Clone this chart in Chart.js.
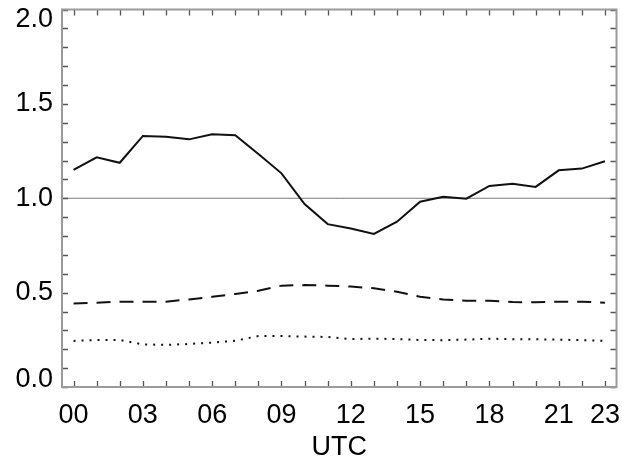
<!DOCTYPE html>
<html>
<head>
<meta charset="utf-8">
<script src="https://cdn.jsdelivr.net/npm/chart.js@4"></script>
<style>
  html, body { margin: 0; padding: 0; background: #fff; }
  #wrap { width: 622px; height: 459px; }
</style>
</head>
<body>
<div id="wrap"><canvas id="grafico" width="622" height="459"></canvas></div>
<script>
// dados
const hours = [0, 1, 2, 3, 4, 5, 6, 7, 8, 9, 10, 11, 12, 13, 14, 15, 16, 17, 18, 19, 20, 21, 22, 23];
const solidVals = [1.150, 1.217, 1.188, 1.330, 1.326, 1.312, 1.339, 1.334, 1.234, 1.132, 0.969, 0.863,
                   0.840, 0.811, 0.876, 0.982, 1.008, 0.998, 1.065, 1.077, 1.060, 1.148, 1.157, 1.196];
const dashedVals = [0.443, 0.447, 0.452, 0.452, 0.452, 0.464, 0.478, 0.493, 0.510, 0.537, 0.540, 0.537,
                    0.532, 0.523, 0.505, 0.478, 0.464, 0.457, 0.457, 0.450, 0.449, 0.452, 0.452, 0.447];
const dottedVals = [0.244, 0.249, 0.249, 0.226, 0.223, 0.228, 0.235, 0.245, 0.270, 0.270, 0.267, 0.265,
                    0.254, 0.256, 0.254, 0.249, 0.248, 0.251, 0.256, 0.253, 0.253, 0.251, 0.248, 0.244];
const xTickLabels = [0, 3, 6, 9, 12, 15, 18, 21, 23];
const yTickLabels = [0.0, 0.5, 1.0, 1.5, 2.0];
const refValue = 1.0;

const FONT = '"Liberation Sans", Arial, Helvetica, sans-serif';

function serie(vals) {
  return hours.map((h, i) => ({ x: h, y: vals[i] }));
}

// moldura, ticks para dentro, linha de referencia e rotulos do eixo y
const molduraPlugin = {
  id: 'moldura',
  beforeDatasetsDraw(chart) {
    const { ctx, chartArea: a, scales: { y } } = chart;
    const py = y.getPixelForValue(refValue);
    ctx.save();
    ctx.strokeStyle = '#7a7a7a';
    ctx.lineWidth = 1;
    ctx.beginPath();
    ctx.moveTo(a.left, py);
    ctx.lineTo(a.right, py);
    ctx.stroke();
    ctx.restore();
  },
  afterDraw(chart) {
    const { ctx, chartArea: a, scales: { x, y } } = chart;
    const tl = 6;
    ctx.save();
    ctx.strokeStyle = '#555';
    ctx.lineWidth = 1.3;
    ctx.beginPath();
    x.ticks.forEach(t => {
      const px = Math.round(x.getPixelForValue(t.value)) + 0.5;
      ctx.moveTo(px, a.bottom); ctx.lineTo(px, a.bottom - tl);
      ctx.moveTo(px, a.top); ctx.lineTo(px, a.top + tl);
    });
    y.ticks.forEach(t => {
      const py = Math.round(y.getPixelForValue(t.value)) + 0.5;
      ctx.moveTo(a.left, py); ctx.lineTo(a.left + tl, py);
      ctx.moveTo(a.right, py); ctx.lineTo(a.right - tl, py);
    });
    ctx.stroke();

    ctx.strokeStyle = '#9a9a9a';
    ctx.lineWidth = 2;
    ctx.strokeRect(a.left, a.top, a.right - a.left, a.bottom - a.top);

    // rotulos y (extremos alinhados com a moldura, como no original)
    ctx.fillStyle = '#000';
    ctx.font = '27px ' + FONT;
    ctx.textAlign = 'right';
    yTickLabels.forEach(v => {
      const py = y.getPixelForValue(v);
      if (v === y.min) { ctx.textBaseline = 'alphabetic'; ctx.fillText(v.toFixed(1), a.left - 9, py); }
      else if (v === y.max) { ctx.textBaseline = 'top'; ctx.fillText(v.toFixed(1), a.left - 9, py - 3); }
      else { ctx.textBaseline = 'middle'; ctx.fillText(v.toFixed(1), a.left - 9, py); }
    });
    ctx.restore();
  }
};

new Chart(document.getElementById('grafico'), {
  type: 'line',
  data: {
    datasets: [
      { data: serie(solidVals), borderColor: '#111', borderWidth: 2, pointRadius: 0, tension: 0 },
      { data: serie(dashedVals), borderColor: '#111', borderWidth: 2, borderDash: [14, 9], pointRadius: 0, tension: 0 },
      { data: serie(dottedVals), borderColor: '#111', borderWidth: 2, borderDash: [2, 6], pointRadius: 0, tension: 0 }
    ]
  },
  options: {
    responsive: false,
    animation: false,
    layout: { padding: { left: 0, right: 5.5, top: 9.5, bottom: 0 } },
    plugins: { legend: { display: false }, tooltip: { enabled: false } },
    scales: {
      x: {
        type: 'linear',
        min: -0.5,
        max: 23.5,
        afterBuildTicks: s => { s.ticks = hours.map(v => ({ value: v })); },
        afterFit: s => { s.height = 72; s.paddingLeft = 0; s.paddingRight = 0; },
        grid: { display: false },
        border: { display: false },
        ticks: {
          autoSkip: false,
          maxRotation: 0,
          padding: 4,
          color: '#000',
          font: { family: FONT, size: 27 },
          callback: v => xTickLabels.includes(v) ? String(v).padStart(2, '0') : ''
        },
        title: {
          display: true,
          text: 'UTC',
          color: '#000',
          padding: { top: 0, bottom: -2 },
          font: { family: FONT, size: 27, lineHeight: 1 }
        }
      },
      y: {
        min: 0,
        max: 2,
        afterBuildTicks: s => {
          const t = [];
          for (let i = 0; i <= 20; i++) t.push({ value: i / 10 });
          s.ticks = t;
        },
        afterFit: s => { s.width = 62; s.paddingTop = 0; s.paddingBottom = 0; },
        grid: { display: false },
        border: { display: false },
        ticks: { display: false }
      }
    }
  },
  plugins: [molduraPlugin]
});
</script>
</body>
</html>
